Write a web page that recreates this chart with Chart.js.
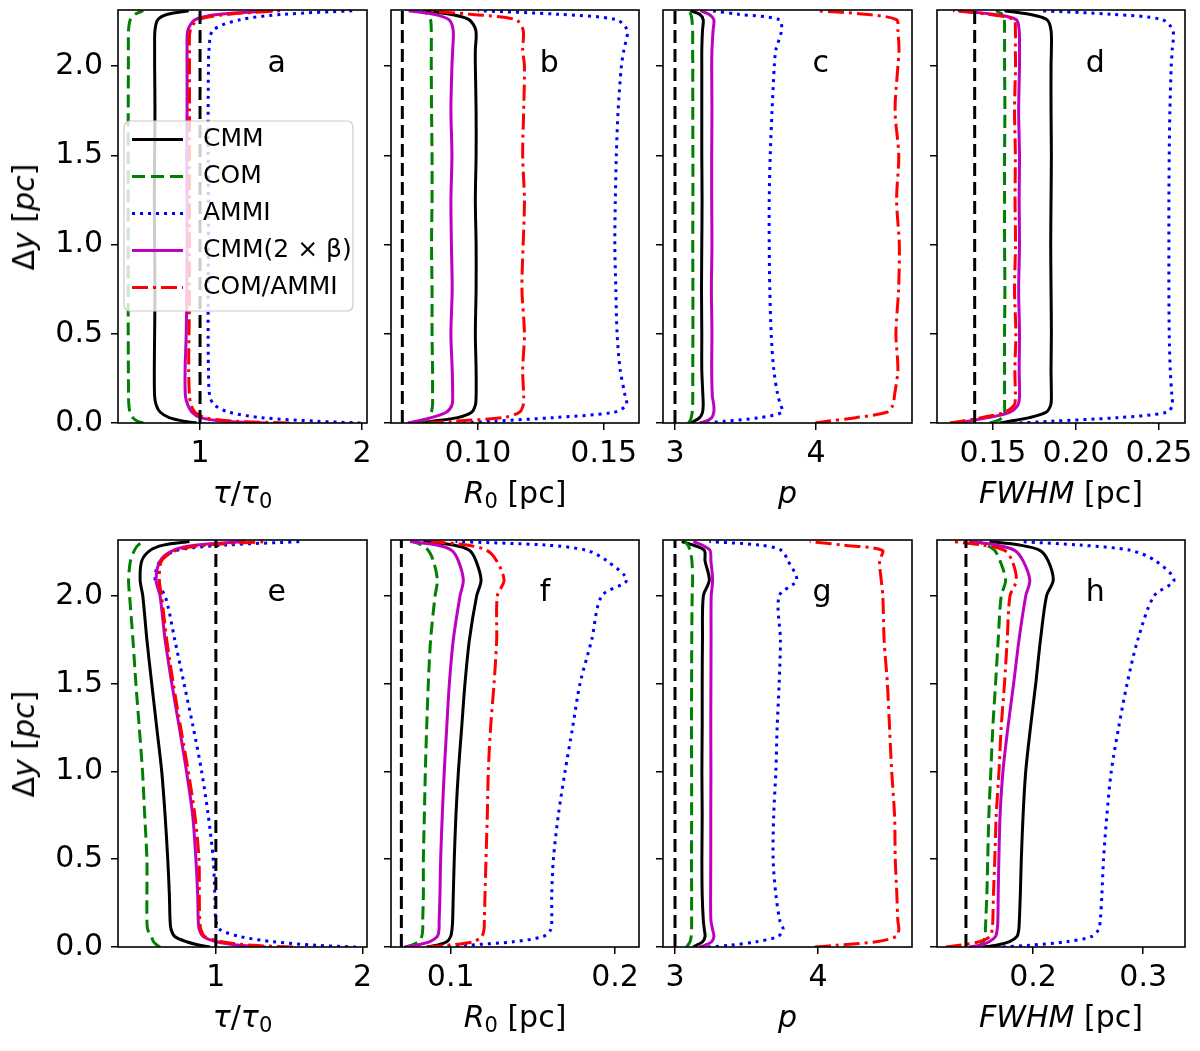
<!DOCTYPE html>
<html>
<head>
<meta charset="utf-8">
<title>Profiles along the filament</title>
<script src="https://cdn.jsdelivr.net/npm/chart.js@4.4.1/dist/chart.umd.min.js"></script>
<style>
  html, body { margin: 0; padding: 0; background: #fff; }
  body { width: 1200px; height: 1051px; position: relative; overflow: hidden; font-family: "DejaVu Sans", sans-serif; }
  canvas { position: absolute; }
  .ttl { position: absolute; font-size: 30px; line-height: 1; color: #000; white-space: nowrap; transform: translate(-50%, -50%); }
  .ttl.rot { transform: translate(-50%, -50%) rotate(-90deg); }
  .ttl sub { font-size: 70%; vertical-align: -0.22em; line-height: 0; }
</style>
</head>
<body>
<script>
// y positions (pc) shared by every profile
const dy = [0, 0.01, 0.03, 0.06, 0.1, 0.15, 0.3, 0.5, 0.75, 1.0, 1.25, 1.5, 1.75, 2.0, 2.09, 2.2, 2.26, 2.29, 2.31];

const seriesNames = ['CMM', 'COM', 'AMMI', 'CMM(2 × β)', 'COM/AMMI'];

// true (input) values, drawn as black dashed lines: a..h
const refX = [1, 0.07, 3, 0.139, 1, 0.07, 3, 0.139];

// panel a: tau/tau0
const aCMM = [0.98, 0.90, 0.81, 0.755, 0.73, 0.72, 0.718, 0.72, 0.722, 0.72, 0.718, 0.72, 0.722, 0.72, 0.72, 0.722, 0.74, 0.80, 0.93];
const aCOM = [0.65, 0.615, 0.585, 0.568, 0.561, 0.559, 0.558, 0.557, 0.557, 0.557, 0.557, 0.557, 0.557, 0.558, 0.558, 0.559, 0.57, 0.60, 0.65];
const aAMMI = [1.99, 1.72, 1.38, 1.18, 1.09, 1.06, 1.052, 1.05, 1.05, 1.052, 1.052, 1.05, 1.05, 1.052, 1.055, 1.08, 1.25, 1.52, 1.95];
const aCMM2b = [1.40, 1.15, 1.0, 0.95, 0.925, 0.91, 0.908, 0.915, 0.918, 0.92, 0.92, 0.918, 0.92, 0.92, 0.92, 0.925, 0.97, 1.12, 1.45];
const aCOMAMMI = [1.55, 1.22, 1.03, 0.97, 0.945, 0.935, 0.93, 0.932, 0.935, 0.935, 0.935, 0.935, 0.935, 0.935, 0.935, 0.94, 0.99, 1.18, 1.50];

// panel b: R0
const bCMM = [0.0765, 0.082, 0.092, 0.0975, 0.099, 0.0993, 0.0993, 0.099, 0.0993, 0.0993, 0.099, 0.0993, 0.0993, 0.099, 0.099, 0.0992, 0.0965, 0.089, 0.079];
const bCOM = [0.076, 0.0785, 0.0805, 0.0815, 0.082, 0.082, 0.082, 0.0818, 0.0818, 0.0816, 0.0818, 0.0818, 0.0816, 0.0815, 0.0815, 0.0815, 0.0812, 0.080, 0.078];
const bAMMI = [0.094, 0.106, 0.130, 0.154, 0.159, 0.1585, 0.1565, 0.1553, 0.1548, 0.1544, 0.1546, 0.155, 0.1557, 0.157, 0.158, 0.1593, 0.155, 0.132, 0.100];
const bCMM2b = [0.0722, 0.0755, 0.0815, 0.0875, 0.0897, 0.090, 0.0898, 0.0893, 0.0898, 0.0895, 0.0893, 0.0897, 0.0893, 0.0897, 0.090, 0.0902, 0.0885, 0.0825, 0.0725];
const bCOMAMMI = [0.080, 0.090, 0.110, 0.1165, 0.118, 0.1182, 0.1178, 0.1185, 0.1175, 0.118, 0.1185, 0.1178, 0.1182, 0.1185, 0.1178, 0.118, 0.115, 0.097, 0.0795];

// panel c: p
const cCMM = [3.10, 3.135, 3.175, 3.195, 3.20, 3.198, 3.19, 3.19, 3.188, 3.19, 3.192, 3.19, 3.19, 3.19, 3.19, 3.195, 3.20, 3.175, 3.11];
const cCOM = [3.095, 3.105, 3.115, 3.122, 3.125, 3.126, 3.126, 3.127, 3.127, 3.126, 3.127, 3.127, 3.126, 3.126, 3.125, 3.125, 3.12, 3.112, 3.10];
const cAMMI = [3.225, 3.35, 3.60, 3.76, 3.75, 3.73, 3.70, 3.682, 3.672, 3.668, 3.668, 3.675, 3.688, 3.704, 3.715, 3.755, 3.74, 3.45, 3.26];
const cCMM2b = [3.175, 3.22, 3.26, 3.275, 3.275, 3.265, 3.26, 3.262, 3.258, 3.262, 3.26, 3.26, 3.262, 3.26, 3.262, 3.27, 3.275, 3.24, 3.18];
const cCOMAMMI = [3.995, 4.08, 4.28, 4.50, 4.545, 4.555, 4.58, 4.566, 4.585, 4.59, 4.571, 4.586, 4.56, 4.58, 4.588, 4.58, 4.57, 4.35, 4.00];

// panel d: FWHM
const dCMM = [0.154, 0.160, 0.172, 0.182, 0.1848, 0.1852, 0.185, 0.1852, 0.185, 0.1848, 0.185, 0.1852, 0.185, 0.185, 0.1852, 0.185, 0.1825, 0.172, 0.157];
const dCOM = [0.148, 0.152, 0.1555, 0.157, 0.157, 0.157, 0.157, 0.157, 0.1572, 0.157, 0.157, 0.157, 0.1572, 0.157, 0.157, 0.157, 0.1568, 0.1555, 0.152];
const dAMMI = [0.166, 0.185, 0.225, 0.255, 0.258, 0.2578, 0.2568, 0.2562, 0.256, 0.256, 0.256, 0.2562, 0.2566, 0.2574, 0.258, 0.2584, 0.252, 0.222, 0.178];
const dCMM2b = [0.128, 0.135, 0.147, 0.160, 0.165, 0.166, 0.1658, 0.166, 0.1655, 0.166, 0.1658, 0.166, 0.1655, 0.166, 0.166, 0.1658, 0.164, 0.150, 0.129];
const dCOMAMMI = [0.124, 0.131, 0.143, 0.157, 0.1628, 0.1635, 0.1632, 0.1638, 0.163, 0.1636, 0.1633, 0.1635, 0.163, 0.1636, 0.1635, 0.1635, 0.1625, 0.147, 0.126];

// panel e: tau/tau0
const eCMM = [0.96, 0.89, 0.80, 0.72, 0.695, 0.688, 0.683, 0.672, 0.654, 0.631, 0.597, 0.563, 0.53, 0.502, 0.484, 0.495, 0.552, 0.642, 0.82];
const eCOM = [0.62, 0.60, 0.575, 0.56, 0.535, 0.53, 0.53, 0.53, 0.515, 0.50, 0.478, 0.455, 0.435, 0.412, 0.405, 0.418, 0.445, 0.47, 0.52];
const eAMMI = [1.955, 1.68, 1.39, 1.163, 1.027, 1.0, 0.993, 0.982, 0.948, 0.903, 0.846, 0.783, 0.72, 0.654, 0.586, 0.62, 0.733, 1.07, 1.59];
const eCMM2b = [1.34, 1.16, 1.005, 0.914, 0.887, 0.88, 0.876, 0.864, 0.842, 0.80, 0.751, 0.70, 0.654, 0.62, 0.593, 0.62, 0.71, 0.87, 1.2];
const eCOMAMMI = [1.525, 1.25, 1.04, 0.925, 0.898, 0.89, 0.887, 0.885, 0.857, 0.812, 0.76, 0.71, 0.665, 0.63, 0.615, 0.63, 0.73, 0.94, 1.34];

// panel f: R0
const fCMM = [0.0854, 0.0915, 0.0976, 0.100, 0.1008, 0.1012, 0.1016, 0.1022, 0.1032, 0.1047, 0.1067, 0.1087, 0.1114, 0.1158, 0.1185, 0.1154, 0.1114, 0.1016, 0.0834];
const fCOM = [0.0722, 0.0763, 0.0803, 0.0824, 0.083, 0.083, 0.0834, 0.0834, 0.084, 0.0846, 0.0854, 0.0864, 0.0878, 0.0905, 0.0919, 0.0895, 0.0864, 0.0824, 0.0773];
const fAMMI = [0.0935, 0.1097, 0.1381, 0.1564, 0.161, 0.1615, 0.1615, 0.1625, 0.1655, 0.1696, 0.1742, 0.1787, 0.1858, 0.1919, 0.2071, 0.195, 0.1828, 0.158, 0.103];
const fCMM2b = [0.072, 0.0793, 0.0874, 0.0919, 0.0929, 0.093, 0.0935, 0.0939, 0.0949, 0.0961, 0.0976, 0.0992, 0.1016, 0.1057, 0.1077, 0.1047, 0.1006, 0.0915, 0.0753];
const fCOMAMMI = [0.0854, 0.0976, 0.1138, 0.1189, 0.1203, 0.1205, 0.1209, 0.1215, 0.1223, 0.1229, 0.1243, 0.1264, 0.128, 0.1284, 0.1325, 0.128, 0.122, 0.110, 0.088];

// panel g: p
const gCMM = [3.128, 3.15, 3.193, 3.21, 3.205, 3.198, 3.19, 3.188, 3.19, 3.188, 3.19, 3.19, 3.192, 3.198, 3.24, 3.21, 3.205, 3.128, 3.047];
const gCOM = [3.08, 3.09, 3.105, 3.113, 3.116, 3.116, 3.116, 3.115, 3.116, 3.116, 3.115, 3.116, 3.117, 3.12, 3.123, 3.118, 3.105, 3.09, 3.07];
const gAMMI = [3.23, 3.384, 3.57, 3.72, 3.756, 3.733, 3.705, 3.686, 3.69, 3.705, 3.714, 3.728, 3.737, 3.728, 3.85, 3.79, 3.744, 3.593, 3.24];
const gCMM2b = [3.174, 3.21, 3.256, 3.272, 3.263, 3.251, 3.249, 3.25, 3.25, 3.251, 3.25, 3.251, 3.252, 3.253, 3.263, 3.251, 3.245, 3.19, 3.128];
const gCOMAMMI = [3.977, 4.128, 4.407, 4.547, 4.565, 4.558, 4.551, 4.54, 4.535, 4.515, 4.50, 4.485, 4.462, 4.453, 4.442, 4.43, 4.45, 4.174, 3.942];

// panel h: FWHM
const hCMM = [0.1543, 0.1665, 0.1787, 0.1854, 0.187, 0.1875, 0.1884, 0.1893, 0.1909, 0.1933, 0.1976, 0.2024, 0.2067, 0.2122, 0.2183, 0.2137, 0.2061, 0.1878, 0.1604];
const hCOM = [0.1482, 0.1518, 0.1549, 0.1564, 0.1567, 0.157, 0.158, 0.1588, 0.1598, 0.1616, 0.1634, 0.1659, 0.1683, 0.171, 0.175, 0.170, 0.165, 0.1573, 0.151];
const hAMMI = [0.1726, 0.197, 0.2305, 0.2534, 0.2595, 0.261, 0.2625, 0.264, 0.267, 0.271, 0.2777, 0.2854, 0.2951, 0.3098, 0.328, 0.3113, 0.2884, 0.2427, 0.1878];
const hCMM2b = [0.142, 0.152, 0.160, 0.1659, 0.1674, 0.168, 0.1683, 0.1689, 0.170, 0.1726, 0.1771, 0.1823, 0.1872, 0.1933, 0.197, 0.1909, 0.1832, 0.1665, 0.142];
const hCOMAMMI = [0.1207, 0.133, 0.1512, 0.161, 0.1628, 0.1634, 0.164, 0.1652, 0.1665, 0.169, 0.171, 0.174, 0.1765, 0.179, 0.1848, 0.181, 0.174, 0.1543, 0.1268];

// ticks
const yTickVals = [0, 0.5, 1, 1.5, 2];
const yTickText = ['0.0', '0.5', '1.0', '1.5', '2.0'];
const xTickTau = [1, 2], xTextTau = ['1', '2'];
const xTickRtop = [0.10, 0.15], xTextRtop = ['0.10', '0.15'];
const xTickP = [3, 4], xTextP = ['3', '4'];
const xTickFtop = [0.15, 0.20, 0.25], xTextFtop = ['0.15', '0.20', '0.25'];
const xTickRbot = [0.1, 0.2], xTextRbot = ['0.1', '0.2'];
const xTickFbot = [0.2, 0.3], xTextFbot = ['0.2', '0.3'];

// ---- layout / styling ----
Chart.defaults.font.family = '"DejaVu Sans", sans-serif';
Chart.defaults.color = '#000';

const styles = [
  { color: '#000000', dash: [] },
  { color: '#008000', dash: [13, 6] },
  { color: '#0000ff', dash: [3, 5] },
  { color: '#bf00bf', dash: [] },
  { color: '#ff0000', dash: [16, 5, 3, 5] }
];

const cols = [[118, 367], [391, 639], [663, 912], [937, 1185]];
const rows = [[10, 423, 2.314], [540, 947, 2.319]];
const padT = 30, padR = 20, padB = 60;

const tauT = '<i>τ</i>/<i>τ</i><sub>0</sub>';
const rT = '<i>R</i><sub>0</sub> [pc]';
const pT = '<i>p</i>';
const fT = '<i>FWHM</i> [pc]';

const panels = [
  { k: 'a', col: 0, row: 0, min: 0.494, max: 2.03, xt: xTickTau, xl: xTextTau, s: [aCMM, aCOM, aAMMI, aCMM2b, aCOMAMMI], t: tauT, legend: true },
  { k: 'b', col: 1, row: 0, min: 0.0655, max: 0.164, xt: xTickRtop, xl: xTextRtop, s: [bCMM, bCOM, bAMMI, bCMM2b, bCOMAMMI], t: rT },
  { k: 'c', col: 2, row: 0, min: 2.915, max: 4.68, xt: xTickP, xl: xTextP, s: [cCMM, cCOM, cAMMI, cCMM2b, cCOMAMMI], t: pT },
  { k: 'd', col: 3, row: 0, min: 0.1163, max: 0.2657, xt: xTickFtop, xl: xTextFtop, s: [dCMM, dCOM, dAMMI, dCMM2b, dCOMAMMI], t: fT },
  { k: 'e', col: 0, row: 1, min: 0.333, max: 2.03, xt: xTickTau, xl: xTextTau, s: [eCMM, eCOM, eAMMI, eCMM2b, eCOMAMMI], t: tauT },
  { k: 'f', col: 1, row: 1, min: 0.0637, max: 0.2146, xt: xTickRbot, xl: xTextRbot, s: [fCMM, fCOM, fAMMI, fCMM2b, fCOMAMMI], t: rT },
  { k: 'g', col: 2, row: 1, min: 2.916, max: 4.657, xt: xTickP, xl: xTextP, s: [gCMM, gCOM, gAMMI, gCMM2b, gCOMAMMI], t: pT },
  { k: 'h', col: 3, row: 1, min: 0.1127, max: 0.338, xt: xTickFbot, xl: xTextFbot, s: [hCMM, hCOM, hAMMI, hCMM2b, hCOMAMMI], t: fT }
];

function roundBox(ctx, x, y, w, h, r) {
  ctx.beginPath();
  ctx.moveTo(x + r, y);
  ctx.arcTo(x + w, y, x + w, y + h, r);
  ctx.arcTo(x + w, y + h, x, y + h, r);
  ctx.arcTo(x, y + h, x, y, r);
  ctx.arcTo(x, y, x + w, y, r);
  ctx.closePath();
}

// frame, panel letter and (panel a) legend
const decor = {
  id: 'decor',
  afterDatasetsDraw(chart, args, opts) {
    const { ctx, chartArea: a } = chart;
    ctx.save();
    ctx.fillStyle = '#000';
    ctx.font = '30px "DejaVu Sans"';
    ctx.textAlign = 'left';
    ctx.textBaseline = 'alphabetic';
    ctx.fillText(opts.letter, a.left + 0.6 * (a.right - a.left), a.top + 0.15 * (a.bottom - a.top));
    if (opts.legend) {
      roundBox(ctx, a.left + 6, a.top + 111, 229, 190, 6);
      ctx.fillStyle = 'rgba(255,255,255,0.8)';
      ctx.fill();
      ctx.lineWidth = 1.2;
      ctx.strokeStyle = '#cccccc';
      ctx.stroke();
      seriesNames.forEach((name, k) => {
        const yy = a.top + 129.5 + 37 * k;
        ctx.beginPath();
        ctx.setLineDash(styles[k].dash);
        ctx.lineWidth = 3;
        ctx.strokeStyle = styles[k].color;
        ctx.moveTo(a.left + 14, yy);
        ctx.lineTo(a.left + 65, yy);
        ctx.stroke();
        ctx.setLineDash([]);
        ctx.fillStyle = '#000';
        ctx.font = '25px "DejaVu Sans"';
        ctx.textBaseline = 'middle';
        ctx.fillText(name, a.left + 85, yy);
      });
    }
    ctx.restore();
  },
  afterDraw(chart) {
    const { ctx, chartArea: a } = chart;
    ctx.save();
    ctx.lineWidth = 1.6;
    ctx.strokeStyle = '#000';
    ctx.strokeRect(a.left, a.top, a.right - a.left, a.bottom - a.top);
    ctx.restore();
  }
};

function addTitle(html, cx, cy, rot) {
  const d = document.createElement('div');
  d.className = rot ? 'ttl rot' : 'ttl';
  d.innerHTML = html;
  d.style.left = cx + 'px';
  d.style.top = cy + 'px';
  document.body.appendChild(d);
}

panels.forEach((p, idx) => {
  const [L, R] = cols[p.col], [T, B, yTop] = rows[p.row];
  const padL = p.col === 0 ? 110 : 12;
  const cv = document.createElement('canvas');
  const w = R - L + padL + padR, h = B - T + padT + padB;
  cv.width = w; cv.height = h;
  cv.style.width = w + 'px'; cv.style.height = h + 'px';
  cv.style.left = (L - padL) + 'px'; cv.style.top = (T - padT) + 'px';
  document.body.appendChild(cv);

  const lines = p.s.map((xs, k) => ({
    label: seriesNames[k],
    data: xs.map((x, i) => ({ x: x, y: dy[i] })),
    borderColor: styles[k].color,
    borderDash: styles[k].dash,
    borderWidth: 3,
    pointRadius: 0,
    showLine: true,
    fill: false,
    tension: 0.3
  }));
  const ref = {
    label: 'input',
    data: [{ x: refX[idx], y: 0 }, { x: refX[idx], y: yTop }],
    borderColor: '#000',
    borderDash: [13, 6],
    borderWidth: 3,
    pointRadius: 0,
    showLine: true,
    fill: false
  };
  // red over magenta, dashed reference on top
  const datasets = [ref, lines[4], lines[3], lines[2], lines[1], lines[0]];

  const gridOpts = { display: true, drawOnChartArea: false, drawTicks: true, tickLength: 7, color: '#000', lineWidth: 1.5 };

  new Chart(cv.getContext('2d'), {
    type: 'scatter',
    data: { datasets: datasets },
    options: {
      responsive: false,
      animation: false,
      events: [],
      layout: { padding: { left: 0, top: padT, right: padR, bottom: 0 } },
      plugins: { legend: { display: false }, tooltip: { enabled: false }, decor: { letter: p.k, legend: !!p.legend } },
      scales: {
        x: {
          type: 'linear', min: p.min, max: p.max,
          afterBuildTicks: s => { s.ticks = p.xt.map(v => ({ value: v })); },
          afterFit: s => { s.height = padB; },
          ticks: { callback: (v, i) => p.xl[i], font: { size: 30 }, padding: 6, maxRotation: 0, autoSkip: false, color: '#000' },
          grid: gridOpts,
          border: { display: false }
        },
        y: {
          type: 'linear', min: 0, max: yTop,
          afterBuildTicks: s => { s.ticks = yTickVals.map(v => ({ value: v })); },
          afterFit: s => { s.width = padL; },
          ticks: { display: p.col === 0, callback: (v, i) => yTickText[i], font: { size: 30 }, padding: 8, autoSkip: false, color: '#000' },
          grid: gridOpts,
          border: { display: false }
        }
      }
    },
    plugins: [decor]
  });

  addTitle(p.t, (L + R) / 2, B + 70, false);
  if (p.col === 0) addTitle('Δ<i>y</i> [<i>pc</i>]', 24, (T + B) / 2, true);
});
</script>
</body>
</html>
